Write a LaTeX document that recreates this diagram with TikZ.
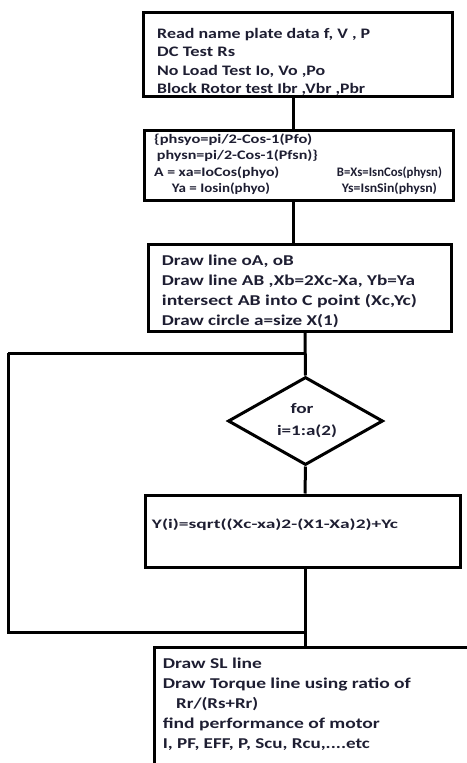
\documentclass[tikz,border=0pt]{standalone}
\usepackage{graphicx}
\usepackage{fontspec}
\setmainfont{Carlito}[BoldFont={Carlito Bold}]
\usetikzlibrary{shapes.geometric}
\definecolor{txt}{HTML}{1E1E32}
\newcommand\fw[2]{\resizebox{#1pt}{\height}{#2}}
\tikzset{
  box/.style={draw=black,line width=3pt,rectangle,inner sep=0pt},
  conn/.style={draw=black,line width=3pt},
  lbl/.style={anchor=base west,inner sep=0pt,text=txt},
  fa/.style={font=\bfseries\fontsize{14.5}{17}\selectfont},
  fb/.style={font=\bfseries\fontsize{13}{15}\selectfont},
  fc/.style={font=\bfseries\fontsize{15}{17}\selectfont},
}
\begin{document}
\begin{tikzpicture}[x=1pt,y=-1pt]
\useasboundingbox (0,0) rectangle (466,763);
% boxes
\node[box,minimum width=309pt,minimum height=84pt] (b1) at (297.5,54.5) {};
\node[box,minimum width=309pt,minimum height=70pt] (b2) at (298.5,165) {};
\node[box,minimum width=303pt,minimum height=87pt] (b3) at (299.5,287.5) {};
\node[diamond,draw=black,line width=3pt,minimum width=155pt,minimum height=88pt,inner sep=0pt,aspect=1.76] (d) at (305.5,421) {};
\node[box,minimum width=315pt,minimum height=72pt] (b4) at (302.5,531) {};
\node[box,minimum width=322pt,minimum height=145pt] (b5) at (315,719.5) {};
% coordinates
\coordinate (cx1) at (293,0);
\coordinate (cx2) at (305,0);
\coordinate (ltop) at (8,353);
\coordinate (lbot) at (8,632);
% connectors
\draw[conn] (b1.south -| cx1) -- (b2.north -| cx1);
\draw[conn] (b2.south -| cx1) -- (b3.north -| cx1);
\draw[conn] (b3.south -| cx2) -- (d.north);
\draw[conn] (d.south) -- (b4.north -| cx2);
\draw[conn] (b4.south -| cx2) -- (b5.north -| cx2);
\draw[conn] (ltop) -- (ltop -| cx2);
\draw[conn,line join=miter] (ltop) -- (lbot) -- (lbot -| cx2);
% box 1
\node[lbl,fa] (t11) at (157,38.3) {\fw{213}{Read name plate data f, V , P}};
\node[lbl,fa] (t12) at (157,56.8) {\fw{78}{DC Test Rs}};
\node[lbl,fa] (t13) at (157,75.2) {\fw{168}{No Load Test Io, Vo ,Po}};
\node[lbl,fa] (t14) at (157,93.5) {\fw{208}{Block Rotor test Ibr ,Vbr ,Pbr}};
% box 2
\node[lbl,fb] (t21) at (154,143.5) {\fw{158}{\{phsyo=pi/2-Cos-1(Pfo)}};
\node[lbl,fb] (t22) at (156.7,159.8) {\fw{161}{physn=pi/2-Cos-1(Pfsn)\}}};
\node[lbl,fb] (t23) at (154,176) {\fw{125}{A = xa=IoCos(phyo)}};
\node[lbl,fb] (t24) at (171.7,192) {\fw{98}{Ya = Iosin(phyo)}};
\node[lbl,fb] (t25) at (336.7,176) {\fw{105}{B=Xs=IsnCos(physn)}};
\node[lbl,fb] (t26) at (341.7,192) {\fw{95}{Ys=IsnSin(physn)}};
% box 3
\node[lbl,fc] (t31) at (161.7,265) {\fw{132}{Draw line oA, oB}};
\node[lbl,fc] (t32) at (161.7,285) {\fw{253}{Draw line AB ,Xb=2Xc-Xa, Yb=Ya}};
\node[lbl,fc] (t33) at (161.7,305) {\fw{255}{intersect AB into C point (Xc,Yc)}};
\node[lbl,fc] (t34) at (161.7,325) {\fw{177}{Draw circle a=size X(1)}};
% diamond
\node[anchor=base,inner sep=0pt,text=txt,fa] (t41) at (302,413) {\fw{23}{for}};
\node[anchor=base,inner sep=0pt,text=txt,fa] (t42) at (307,435) {\fw{60}{i=1:a(2)}};
% box 4
\node[lbl,fb] (t51) at (151.7,528) {\fw{246}{Y(i)=sqrt((Xc-xa)2-(X1-Xa)2)+Yc}};
% box 5
\node[lbl,fc] (t61) at (162.7,668) {\fw{99}{Draw SL line}};
\node[lbl,fc] (t62) at (162.7,688) {\fw{248}{Draw Torque line using ratio of}};
\node[lbl,fc] (t63) at (176,708) {\fw{82}{Rr/(Rs+Rr)}};
\node[lbl,fc] (t64) at (162.7,728) {\fw{217}{find performance of motor}};
\node[lbl,fc] (t65) at (162.7,748) {\fw{207}{I, PF, EFF, P, Scu, Rcu,....etc}};
\end{tikzpicture}
\end{document}
